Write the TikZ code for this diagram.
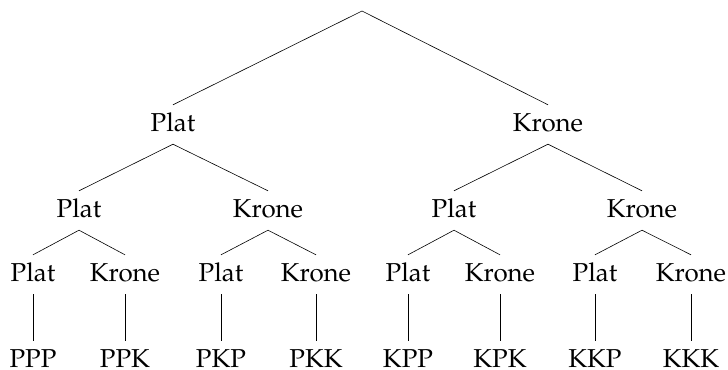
\documentclass[tikz,border=0pt]{standalone}
\usepackage[T1]{fontenc}
\usepackage{mathpazo}
\tikzset{
  coin/.style={
    font=\fontsize{26}{31}\selectfont,
    inner sep=0pt,
    text height=26bp,
    text depth=13bp,
    anchor=base
  },
  outcome/.style={
    coin,
    text depth=0pt
  },
  branch/.style={
    draw=black,
    line width=0.6bp
  }
}
\begin{document}
\begin{tikzpicture}[x=1bp,y=-1bp]
  \useasboundingbox (0,0) rectangle (728,369);

  % First toss
  \coordinate (root) at (362,11);
  \node[coin] (p) at (173,131) {Plat};
  \node[coin] (k) at (548,131) {Krone};
  \draw[branch] (root) -- (p.north);
  \draw[branch] (root) -- (k.north);

  % Second toss
  \node[coin] (pp) at (79,217) {Plat};
  \node[coin] (pk) at (268,217) {Krone};
  \node[coin] (kp) at (454,217) {Plat};
  \node[coin] (kk) at (642,217) {Krone};
  \foreach \from/\to in {p/pp,p/pk,k/kp,k/kk} {
    \draw[branch] (\from.south) -- (\to.north);
  }

  % Third toss and outcomes
  \foreach \name/\x/\side/\result in {ppp/33/Plat/PPP,ppk/125/Krone/PPK,
      pkp/221/Plat/PKP,pkk/316/Krone/PKK,kpp/408/Plat/KPP,kpk/500/Krone/KPK,
      kkp/595/Plat/KKP,kkk/691/Krone/KKK} {
    \node[coin] (\name) at (\x,281) {\side};
    \node[outcome] (out-\name) at (\x,367.5) {\result};
    \draw[branch] (\name.south) -- (out-\name.north);
  }
  \foreach \from/\to in {pp/ppp,pp/ppk,pk/pkp,pk/pkk,kp/kpp,kp/kpk,kk/kkp,kk/kkk} {
    \draw[branch] (\from.south) -- (\to.north);
  }
\end{tikzpicture}
\end{document}
